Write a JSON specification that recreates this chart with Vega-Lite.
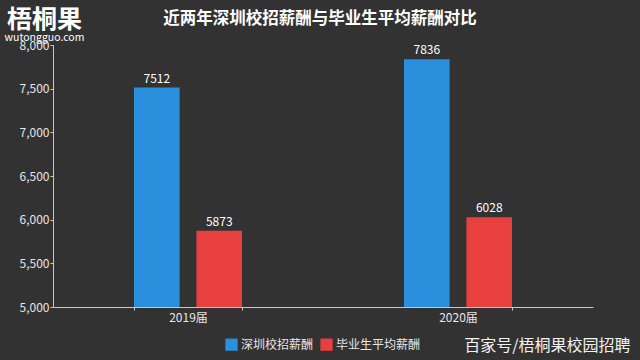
{
  "$schema": "https://vega.github.io/schema/vega-lite/v6.json",
  "autosize": "none",
  "width": 540,
  "height": 262,
  "padding": {"left": 53, "top": 45, "right": 47, "bottom": 53},
  "background": "#333232",
  "config": {
    "view": {"stroke": null},
    "font": "Noto Sans CJK SC",
    "axis": {"grid": false, "domainColor": "#c8c8c8", "tickColor": "#c8c8c8", "labelColor": "#e6e6e6", "labelFontSize": 12, "labelFont": "Noto Sans CJK SC", "titleFont": "Noto Sans CJK SC"}
  },
  "title": {"text": "近两年深圳校招薪酬与毕业生平均薪酬对比", "fontSize": 16.5, "fontWeight": "bold", "color": "#ffffff", "anchor": "middle", "offset": 0, "dy": 20, "dx": -3, "font": "Noto Sans CJK SC"},
  "data": {"values": [
    {"year": "2019届", "type": "深圳校招薪酬", "salary": 7512},
    {"year": "2019届", "type": "毕业生平均薪酬", "salary": 5873},
    {"year": "2020届", "type": "深圳校招薪酬", "salary": 7836},
    {"year": "2020届", "type": "毕业生平均薪酬", "salary": 6028}
  ]},
  "encoding": {
    "x": {"field": "year", "type": "nominal", "scale": {"paddingInner": 0.6, "paddingOuter": 0.3}},
    "xOffset": {"field": "type", "type": "nominal", "sort": ["深圳校招薪酬", "毕业生平均薪酬"], "scale": {"paddingInner": 0.27, "paddingOuter": 0}},
    "y": {"field": "salary", "type": "quantitative", "scale": {"domain": [5000, 8000], "zero": false, "nice": false}}
  },
  "layer": [
    {
      "mark": {"type": "bar"},
      "encoding": {
        "x": {"field": "year", "type": "nominal", "scale": {"paddingInner": 0.6, "paddingOuter": 0.3},
          "axis": {"title": "百家号/梧桐果校园招聘", "labelAngle": 0, "tickBand": "extent", "tickSize": 3, "labelPadding": 2,
            "titleX": 577, "titleY": 38, "titleAlign": "right", "titleBaseline": "middle", "titleFontSize": 16, "titleFontWeight": "normal", "titleColor": "#f2f2f2"}},
        "y": {"field": "salary", "type": "quantitative", "scale": {"domain": [5000, 8000], "zero": false, "nice": false},
          "axis": {"values": [5000, 5500, 6000, 6500, 7000, 7500, 8000], "format": ",.0f", "tickSize": 3, "labelPadding": 1,
            "title": "梧桐果", "titleAngle": 0, "titleX": -9, "titleY": -26, "titleAlign": "center", "titleBaseline": "middle", "titleFontSize": 25, "titleFontWeight": "bold", "titleColor": "#ffffff"}},
        "y2": {"datum": 5000},
        "color": {"field": "type", "type": "nominal", "sort": ["深圳校招薪酬", "毕业生平均薪酬"],
          "scale": {"domain": ["深圳校招薪酬", "毕业生平均薪酬"], "range": ["#2a90dd", "#e8403e"]},
          "legend": {"title": null, "orient": "none", "direction": "horizontal", "legendX": 172, "legendY": 293, "symbolType": "square", "symbolSize": 150, "symbolStrokeWidth": 0, "labelColor": "#e6e6e6", "labelFontSize": 12, "columnPadding": 6, "labelOffset": 3}}
      }
    },
    {
      "mark": {"type": "text", "dy": -9, "color": "#ffffff", "fontSize": 12},
      "encoding": {
        "x": {"field": "year", "type": "nominal", "scale": {"paddingInner": 0.6, "paddingOuter": 0.3},
          "axis": {"orient": "top", "labels": false, "ticks": false, "domain": false, "title": "wutongguo.com", "titleX": -9, "titleY": -8, "titleAlign": "center", "titleBaseline": "middle", "titleFontSize": 10.5, "titleFontWeight": "normal", "titleColor": "#ffffff"}},
        "text": {"field": "salary", "type": "quantitative"}
      }
    }
  ],
  "resolve": {"axis": {"x": "independent"}}
}
